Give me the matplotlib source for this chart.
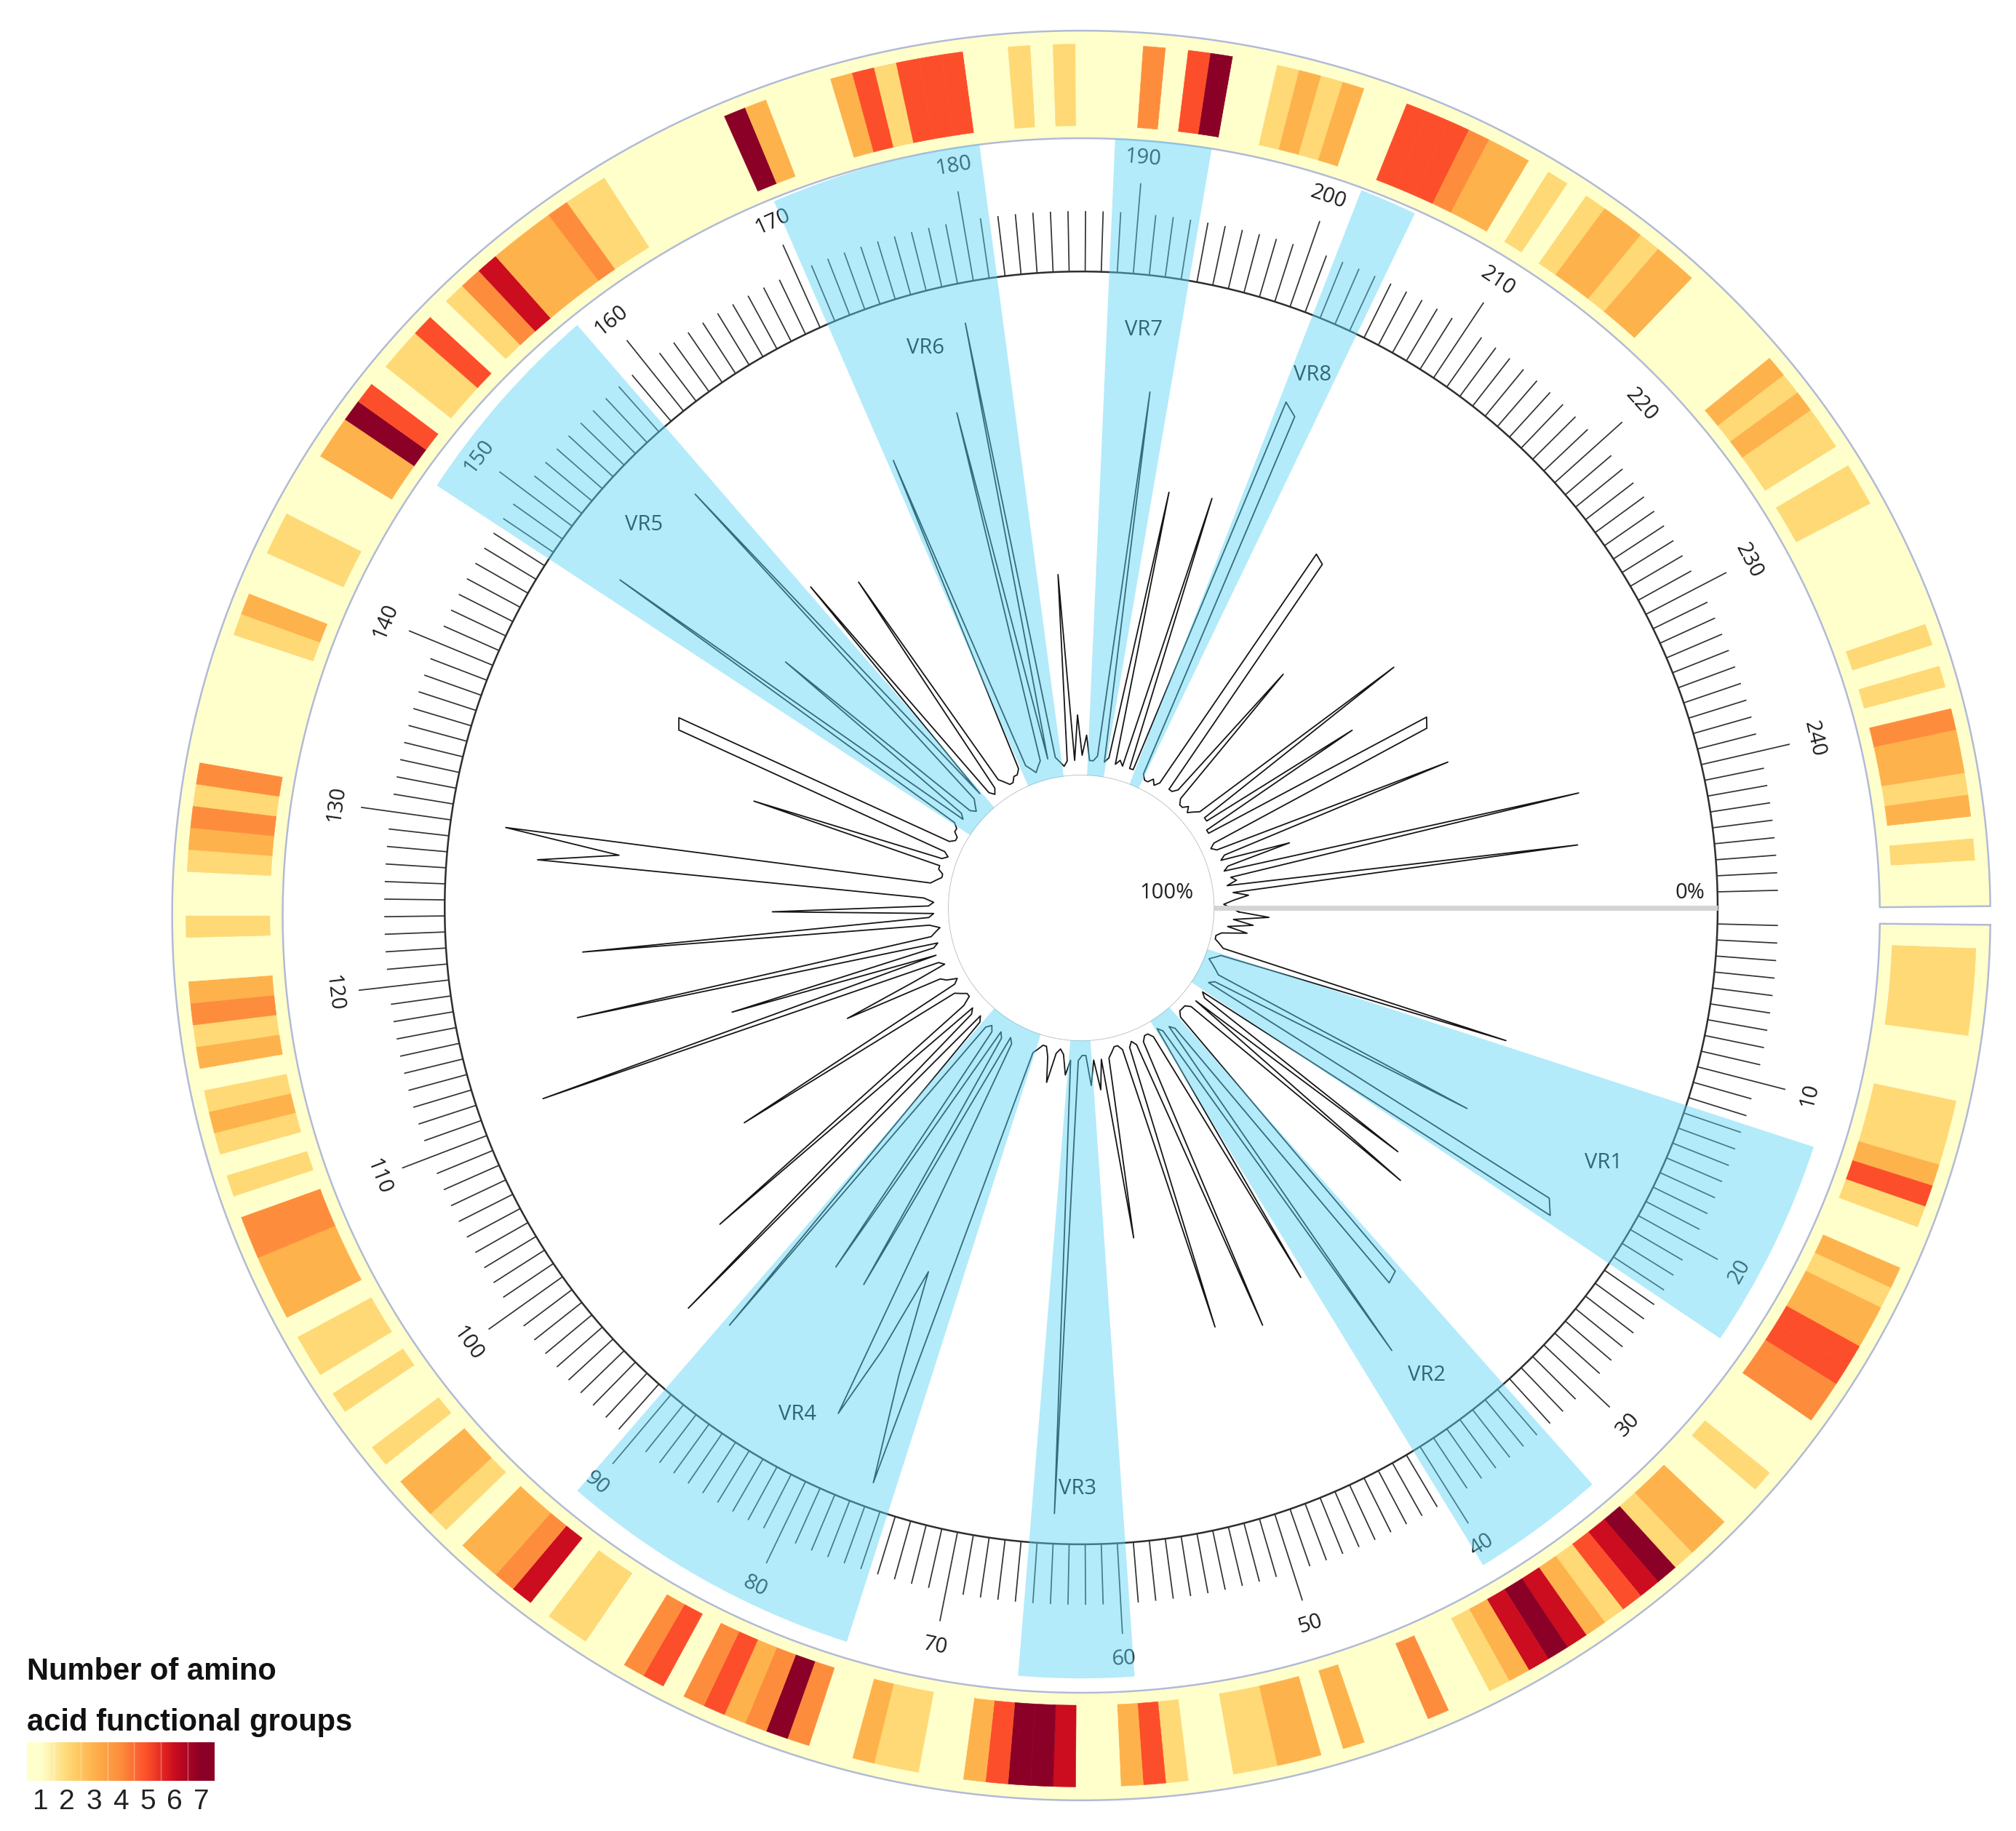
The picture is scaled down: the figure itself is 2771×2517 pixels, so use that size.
import numpy as np
import matplotlib
matplotlib.use("Agg")
import matplotlib.pyplot as plt
from matplotlib.colors import LinearSegmentedColormap
from matplotlib.transforms import ScaledTranslation

# ---------------- data ----------------
N_SLOTS = 249                      # 248 alignment positions + one empty slot for the axis
positions = np.arange(1, 249)

conservation = [
    95, 89, 96, 92, 97, 93, 98, 99, 99, 98, 97, 38, 97, 98, 99, 98, 97, 96, 40, 96,
    97, 17, 15, 97, 96, 47, 97, 43, 97, 98, 98, 98, 97, 31, 30, 96, 97, 19, 97, 98,
    41, 97, 98, 98, 97, 36, 97, 98, 97, 39, 97, 98, 98, 97, 96, 60, 96, 90, 96, 91,
    97, 97, 96, 6, 96, 93, 97, 98, 97, 91, 96, 98, 98, 97, 96, 5, 27, 48, 30, 15,
    96, 97, 40, 96, 97, 40, 96, 97, 96, 18, 96, 97, 15, 96, 97, 31, 96, 98, 98, 97,
    96, 47, 97, 98, 96, 95, 75, 90, 97, 96, 13, 96, 54, 96, 97, 24, 96, 97, 98, 96,
    27, 96, 97, 65, 96, 97, 95, 18, 34, 11, 96, 97, 98, 98, 97, 97, 58, 97, 98, 97,
    39, 38, 97, 98, 98, 97, 97, 96, 14, 97, 96, 50, 97, 98, 97, 96, 14, 96, 43, 97,
    98, 97, 48, 96, 97, 98, 98, 97, 97, 96, 30, 96, 97, 98, 97, 96, 25, 96, 8, 96,
    97, 98, 97, 60, 97, 88, 96, 92, 97, 97, 96, 23, 97, 96, 42, 97, 96, 97, 41, 97,
    97, 18, 20, 97, 98, 98, 97, 98, 97, 42, 43, 97, 97, 96, 65, 97, 98, 98, 97, 98,
    97, 96, 48, 96, 96, 62, 97, 97, 48, 49, 97, 98, 97, 48, 96, 97, 83, 96, 97, 25,
    96, 95, 97, 27, 96, 93, 96, 98,
]

functional_groups = [
    1, 2, 2, 2, 2, 1, 1, 1, 2, 2, 2, 3, 5, 2, 1, 1, 3, 2, 3, 3,
    5, 5, 4, 4, 1, 1, 1, 2, 1, 1, 3, 3, 2, 7, 6, 5, 2, 3, 6, 7,
    6, 3, 2, 1, 1, 4, 1, 1, 1, 3, 1, 3, 3, 2, 2, 1, 1, 2, 5, 3,
    1, 1, 6, 7, 7, 5, 3, 1, 1, 2, 2, 3, 1, 1, 4, 7, 4, 3, 5, 4,
    1, 5, 4, 1, 1, 2, 2, 1, 6, 4, 3, 3, 1, 2, 3, 3, 1, 2, 1, 1,
    2, 1, 2, 2, 1, 3, 3, 3, 4, 4, 1, 2, 1, 2, 3, 2, 1, 3, 2, 4,
    3, 1, 1, 2, 1, 1, 2, 3, 4, 2, 4, 1, 1, 1, 1, 1, 1, 2, 3, 1,
    1, 2, 2, 1, 1, 1, 3, 3, 7, 5, 1, 2, 2, 5, 1, 2, 4, 6, 3, 3,
    3, 4, 2, 2, 1, 1, 1, 1, 1, 1, 7, 3, 1, 1, 1, 3, 5, 2, 5, 5,
    5, 1, 1, 2, 1, 2, 1, 1, 1, 4, 1, 5, 7, 1, 1, 2, 3, 2, 3, 1,
    1, 5, 5, 5, 4, 3, 3, 1, 2, 1, 2, 3, 3, 2, 3, 3, 1, 1, 1, 1,
    1, 3, 2, 3, 2, 2, 1, 2, 2, 1, 1, 1, 1, 1, 1, 2, 1, 2, 1, 4,
    3, 3, 2, 3, 1, 2, 1, 1,
]

vr_names = ["VR1", "VR2", "VR3", "VR4", "VR5", "VR6", "VR7", "VR8"]
vr_start = [13, 34, 60, 75, 148, 171, 189, 202]
vr_end = [23, 40, 65, 90, 158, 181, 193, 204]

tick_label_positions = list(range(10, 250, 10))
legend_levels = [1, 2, 3, 4, 5, 6, 7]
heat_colors = ["#ffffcc", "#fed976", "#feb24c", "#fd8d3c", "#fc4e2a", "#cc0c1f", "#8a0026"]
legend_title = ["Number of amino", "acid functional groups"]

# ---------------- figure ----------------
plt.rcParams["font.family"] = ["Open Sans", "DejaVu Sans"]
fig = plt.figure(figsize=(27.71, 25.17), dpi=100)
fig.patch.set_facecolor("white")
W, H = 2771.0, 2517.0

step = 2 * np.pi / N_SLOTS
theta = positions * step
circ = np.linspace(0, 2 * np.pi, 1000)
R_ORIGIN = -26.3
R_MAX = 153

# ---- heat-map ring (its own, slightly elliptical polar axes) ----
rax = fig.add_axes([0.08134, 0.01240, 0.91000, 0.97521], projection="polar")
rax.set_aspect("auto")
rax.set_theta_zero_location("E")
rax.set_theta_direction(-1)
rax.axis("off")
a0, a1 = 0.42 * step, 2 * np.pi - 0.42 * step
rax.bar((a0 + a1) / 2, 21.6, width=a1 - a0, bottom=129.8, color=heat_colors[0],
        edgecolor="none", linewidth=0, zorder=1)
cell_cols = [heat_colors[v - 1] for v in functional_groups]
rax.bar(theta, 16.4, width=step, bottom=132.3, color=cell_cols, edgecolor=cell_cols,
        linewidth=0.4, zorder=1.5)
arc = np.linspace(a0, a1, 800)
ox = np.concatenate([arc, arc[::-1], [a0]])
oy = np.concatenate([np.full(arc.size, 151.4), np.full(arc.size, 129.8), [151.4]])
rax.plot(ox, oy, color="#b2bad6", lw=1.8, zorder=2)
rax.set_rorigin(R_ORIGIN)
rax.set_rlim(0, R_MAX)

# ---- main polar axes ----
ax = fig.add_axes([0.0881, 0.0107, 0.8964, 0.9869], projection="polar")
ax.set_theta_zero_location("E")
ax.set_theta_direction(-1)
ax.axis("off")
ax.patch.set_alpha(0)

# position scale
tick_len = np.where(positions % 10 == 0, 118.0, 112.0)
ax.vlines(theta, 100, tick_len, color="#333333", lw=1.25, zorder=3)
ax.plot(circ, np.full(circ.size, 100.0), color="#2e2e2e", lw=1.8, zorder=3)
ax.plot(circ, np.zeros(circ.size), color="#c4c4c4", lw=1.4, zorder=3)

for p in tick_label_positions:
    ang = p * step
    rot = -np.degrees(ang) - 90
    rot = (rot + 180) % 360 - 180
    if rot > 90:
        rot -= 180
    elif rot <= -90:
        rot += 180
    ax.text(ang, 123.0, str(p), rotation=rot, rotation_mode="anchor", ha="center",
            va="center", fontsize=21, color="#1c1c1c", zorder=3)

# conservation profile
r_line = 100 - np.array(conservation, dtype=float)
ax.plot(np.append(theta, theta[0]), np.append(r_line, r_line[0]), color="#151515",
        lw=1.3, zorder=3)

# radial axis
ax.plot([0, 0], [0, 100], color="#d4d4d4", lw=5, solid_capstyle="butt", zorder=5)
lift = ax.transData + ScaledTranslation(0, 4 / 72, fig.dpi_scale_trans)
ax.text(0, -4.0, "100%", transform=lift, ha="right", va="bottom", fontsize=21,
        color="#222222", zorder=5)
ax.text(0, 97.5, "0%", transform=lift, ha="right", va="bottom", fontsize=21,
        color="#222222", zorder=5)

# variable regions
for name, s, e in zip(vr_names, vr_start, vr_end):
    mid = (s + e) / 2 * step
    ax.text(mid, 89, name, ha="center", va="center", fontsize=21, color="#0c0c0c", zorder=3)
    ax.bar(mid, 126.6, width=(e - s + 1) * step, bottom=0, color="#5ad4f5", alpha=0.46,
           edgecolor="none", linewidth=0, zorder=6)

ax.set_rorigin(R_ORIGIN)
ax.set_rlim(0, R_MAX)

# ---------------- legend ----------------
fig.text(37 / W, 1 - 2309 / H, legend_title[0], fontsize=30, fontweight="bold",
         family=["Liberation Sans", "DejaVu Sans"], ha="left", va="baseline", color="#111111")
fig.text(37 / W, 1 - 2379 / H, legend_title[1], fontsize=30, fontweight="bold",
         family=["Liberation Sans", "DejaVu Sans"], ha="left", va="baseline", color="#111111")

lax = fig.add_axes([37 / W, 1 - 2448 / H, 258 / W, 53 / H])
cmap = LinearSegmentedColormap.from_list("fg", heat_colors)
grad = np.linspace(0.5, 7.5, 400)[None, :]
lax.imshow(grad, aspect="auto", cmap=cmap, vmin=1, vmax=7,
           extent=[0.5, 7.5, 0, 1], interpolation="bilinear")
for k in legend_levels[:-1]:
    lax.axvline(k + 0.5, color="white", alpha=0.35, lw=1)
lax.set_xlim(0.5, 7.5)
lax.set_ylim(0, 1)
lax.set_yticks([])
lax.set_xticks(legend_levels)
lax.set_xticklabels([str(v) for v in legend_levels], fontsize=28,
                    family=["Liberation Sans", "DejaVu Sans"], color="#222222")
lax.tick_params(axis="x", length=0, pad=8)
for sp in lax.spines.values():
    sp.set_visible(False)

fig.savefig("out.png", dpi=100, facecolor="white")
